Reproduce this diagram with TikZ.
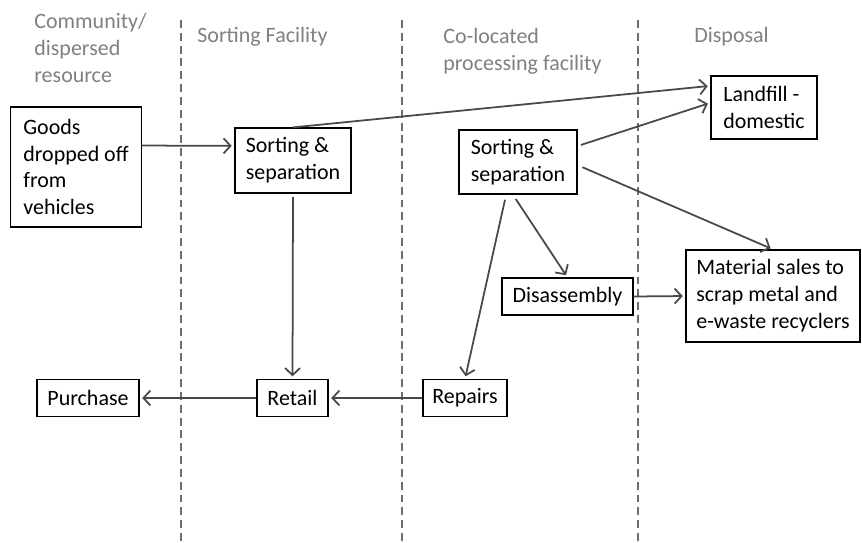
\documentclass[tikz,border=0pt]{standalone}
\usepackage{fontspec}
\setmainfont{Carlito}
\usetikzlibrary{arrows.meta}
\definecolor{hdrgray}{RGB}{128,128,128}
\definecolor{arrgray}{RGB}{72,72,72}
\definecolor{lanegray}{RGB}{110,110,110}
\tikzset{
  box/.style={draw, line width=0.7pt, align=left, inner sep=0pt},
  hdr/.style={text=hdrgray, align=left, anchor=base west, inner sep=0pt},
  flow/.style={draw=arrgray, line width=1pt, -{Straight Barb[length=1.4mm,width=3mm]}, shorten >=1.5pt},
  lane/.style={draw=lanegray, line width=0.8pt, dash pattern=on 4.5pt off 2.8pt}
}
\begin{document}
\begin{tikzpicture}[x=0.02cm, y=-0.02cm, font=\fontsize{12.5}{15.3}\selectfont]
      \useasboundingbox (0,0) rectangle (862,542);
      % Lanes
      \foreach \x in {181,402,638} \draw[lane] (\x,20) -- (\x,542);

      % Headers (base = last line)
      \node[hdr] at (34,82) (hcom) {Community/\\dispersed\\resource};
      \node[hdr] at (197,42) (hsort) {Sorting Facility};
      \node[hdr] at (443,70) (hproc) {Co-located\\processing facility};
      \node[hdr] at (694,42) (hdisp) {Disposal};

      % Nodes
      \node[box, minimum width=2.62cm, minimum height=2.40cm] at (76,167) (goods) {Goods\\dropped off\\from\\vehicles};
      \node[box, minimum width=2.32cm, minimum height=1.30cm] at (293,160.5) (s1) {Sorting \&\\separation};
      \node[box, minimum width=2.36cm, minimum height=1.28cm] at (518,162) (s2) {Sorting \&\\separation};
      \node[box, minimum width=2.12cm, minimum height=1.26cm] at (764,107.5) (landfill) {Landfill -\\domestic};
      \node[box, minimum width=2.62cm, minimum height=0.74cm] at (567.5,296.5) (disasm) {Disassembly};
      \node[box, minimum width=3.48cm, minimum height=1.84cm] at (773,296) (material) {Material sales to\\scrap metal and\\e-waste recyclers};
      \node[box, minimum width=1.68cm, minimum height=0.74cm] at (465,398) (repairs) {Repairs};
      \node[box, minimum width=1.42cm, minimum height=0.74cm] at (292.5,398) (retail) {Retail};
      \node[box, minimum width=2.04cm, minimum height=0.74cm] at (88,398) (purchase) {Purchase};

      % Flows
      \draw[flow] (goods.18) -- (s1.166);
      \draw[flow] (s1.north) -- (landfill.158);
      \draw[flow, shorten <=2pt] (s2.15) -- (landfill.175);
      \draw[flow, shorten <=3pt] (s2.-3) -- (material.north);
      \draw[flow, shorten <=3pt] (s2.250) -- (repairs.north);
      \draw[flow, shorten <=3pt] (s2.261) -- (disasm.north);
      \draw[flow] (disasm.east) -- (material.west);
      \draw[flow, shorten <=2pt] (s1.south) -- (retail.north);
      \draw[flow] (repairs.west) -- (retail.east);
      \draw[flow] (retail.west) -- (purchase.east);
    \end{tikzpicture}
\end{document}
